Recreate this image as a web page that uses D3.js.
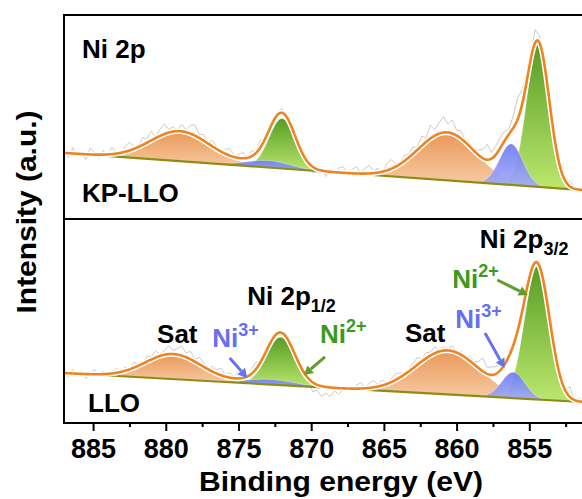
<!DOCTYPE html>
<html><head><meta charset="utf-8">
<script src="https://cdn.jsdelivr.net/npm/d3@7"></script>
<style>
html,body{margin:0;padding:0;background:#fff;}
text{font-family:"Liberation Sans",Arial,sans-serif;font-weight:bold;}
</style></head>
<body><svg id="chart" width="582" height="499"></svg>
<script>
// ---------- data ----------
const energyDomain = [887, 850];
const majorTicks = [885, 880, 875, 870, 865, 860, 855];
const minorTicks = [882.5, 877.5, 872.5, 867.5, 862.5, 857.5, 852.5];
const peakKinds = ["sat", "ni3", "ni2", "sat", "ni3", "ni2"];
// KP-LLO fit components (centre eV, height a.u., sigma eV)
const kpCenters = [879.0, 872.95, 872.0, 860.65, 856.25, 854.4];
const kpHeights = [14.7, 3.4, 24.5, 23.5, 20.1, 70.1];
const kpWidths  = [2.06, 1.5, 0.89, 2.0, 0.8, 0.78];
const kpBackground = [32.4, 13.5];   // at 887 eV and 850 eV
// LLO fit components
const lloCenters = [879.48, 872.8, 872.1, 860.6, 856.1, 854.46];
const lloHeights = [12.3, 2.5, 23.5, 21.6, 12.7, 65.2];
const lloWidths  = [1.92, 1.7, 0.96, 2.2, 0.8, 0.86];
const lloBackground = [24.5, 9.75];
// raw-data residuals (a.u.), sampled every 0.3 eV from 887 eV
const rawStep = 0.3;
const kpResidual = [
 1.5,-2.0,2.8,-1.2,0.6,-2.6,3.2,1.0,-1.8,2.2,
 -0.8,3.5,0.4,-2.2,2.6,4.1,1.2,-0.6,3.8,2.0,
 4.5,0.8,3.2,5.0,1.6,2.4,0.2,3.6,1.1,4.2,
 5.2,1.8,3.0,0.6,2.8,1.4,-0.5,2.2,3.4,0.8,
 1.6,3.0,-0.4,2.4,1.2,3.6,0.5,2.0,-0.6,1.4,
 2.2,0.3,-1.2,1.0,-0.8,0.6,-2.2,-3.0,-1.4,0.8,
 -2.6,1.4,-0.6,2.2,3.0,0.4,1.8,3.4,0.6,2.6,
 3.8,1.0,2.2,-0.4,3.2,4.6,1.4,0.8,2.8,1.6,
 3.4,1.2,4.8,2.0,6.5,3.0,5.4,7.8,4.2,6.6,
 2.6,3.8,0.8,1.8,-0.6,2.4,4.2,7.5,3.0,4.5,
 5.0,4.6,2.4,6.0,10.5,7.2,4.0,3.0,6.5,3.2,
 1.4,-0.8,0.6,-1.6,1.2,-0.4,2.4,0.6,-1.2,1.8,
 0.4,-1.0,2.2,0.8];
const lloResidual = [
 1.2,-1.8,2.0,-0.6,1.4,-2.2,0.8,2.4,-1.0,1.6,
 -1.4,0.6,2.2,-0.4,1.8,0.2,2.6,1.0,-0.2,2.8,
 1.4,3.2,0.8,2.0,4.2,1.6,3.0,4.6,2.2,3.8,
 1.2,3.4,2.0,0.4,2.6,1.8,3.6,0.8,2.4,1.0,
 3.0,1.6,-0.2,2.2,3.4,1.0,2.6,0.4,1.8,-0.4,
 1.2,-1.0,0.6,0.8,-0.6,-2.4,-1.2,-4.6,-2.8,-5.0,
 -3.2,-4.4,-1.6,-3.0,-0.6,1.2,-0.4,1.6,2.8,0.6,
 2.2,3.4,1.0,2.6,0.4,1.8,3.0,2.2,0.8,1.6,
 2.4,3.6,1.2,2.8,1.6,3.2,0.6,2.0,1.0,2.6,
 0.4,1.8,-0.6,2.4,1.4,3.2,6.5,3.0,4.0,3.4,
 4.2,2.0,1.2,3.0,1.8,0.6,2.2,1.4,0.4,-0.8,
 0.8,-1.4,1.2,-0.6,2.0,1.0,5.0,-0.8,1.6,0.2,
 -1.2,0.8,1.8,-0.4];

// ---------- layout ----------
const frameLeft = 64, frameTop = 15, frameMid = 219, frameBottom = 423, frameRight = 602;
const svg = d3.select("#chart");
const x = d3.scaleLinear().domain(energyDomain).range([frameLeft, frameRight]);
const yTop = d3.scaleLinear().domain([0, 100]).range([frameMid, frameTop]);
const yBot = d3.scaleLinear().domain([0, 100]).range([frameBottom, frameMid]);

const colors = {
  sat: ["#eb9858", "#f7d0aa"],
  ni3: ["#6d7bf3", "#a5adf8"],
  ni2: ["#579c25", "#bde86e"]
};
const defs = svg.append("defs");
Object.entries(colors).forEach(([k, c]) => {
  const g = defs.append("linearGradient").attr("id", "grad-" + k)
    .attr("x1", 0).attr("y1", 0).attr("x2", 0).attr("y2", 1);
  g.append("stop").attr("offset", "0%").attr("stop-color", c[0]);
  g.append("stop").attr("offset", "100%").attr("stop-color", c[1]);
});
defs.append("clipPath").attr("id", "clipTop").append("rect")
  .attr("x", frameLeft).attr("y", frameTop).attr("width", frameRight - frameLeft).attr("height", frameMid - frameTop);
defs.append("clipPath").attr("id", "clipBot").append("rect")
  .attr("x", frameLeft).attr("y", frameMid).attr("width", frameRight - frameLeft).attr("height", frameBottom - frameMid);

const grid = d3.range(0, 741).map(i => energyDomain[0] - i * 0.05);
const gauss = (e, c, h, s) => h * Math.exp(-0.5 * ((e - c) / s) ** 2);

function drawPanel(y, centers, heights, widths, bg, resid, clipId) {
  const g = svg.append("g").attr("clip-path", `url(#${clipId})`);
  const base = e => bg[0] + (bg[1] - bg[0]) * (e - energyDomain[0]) / (energyDomain[1] - energyDomain[0]);
  const env = e => base(e) + centers.reduce((s, c, i) => s + gauss(e, c, heights[i], widths[i]), 0);
  // raw data
  const raw = resid.map((r, i) => { const e = energyDomain[0] - i * rawStep; return [e, env(e) + r]; });
  g.append("path").datum(raw)
    .attr("d", d3.line().x(d => x(d[0])).y(d => y(d[1])))
    .attr("fill", "none").attr("stroke", "#c4c4c4").attr("stroke-width", 0.9);
  // components
  const order = ["sat", "ni2", "ni3"];
  order.forEach(kind => {
    centers.forEach((c, i) => {
      if (peakKinds[i] !== kind) return;
      const pts = grid.filter(e => Math.abs(e - c) < widths[i] * 5);
      const area = d3.area().x(e => x(e)).y0(e => y(base(e)))
        .y1(e => y(base(e) + gauss(e, c, heights[i], widths[i])));
      g.append("path").datum(pts).attr("d", area)
        .attr("fill", `url(#grad-${kind})`).attr("fill-opacity", kind === "ni3" ? 0.92 : 1)
        .attr("stroke", "#ffffff").attr("stroke-opacity", 0.6).attr("stroke-width", 0.6);
    });
  });
  // background line
  g.append("line").attr("x1", x(energyDomain[0])).attr("x2", x(energyDomain[1]))
    .attr("y1", y(bg[0])).attr("y2", y(bg[1]))
    .attr("stroke", "#8e8c16").attr("stroke-width", 2.2);
  // envelope
  const envLine = d3.line().x(e => x(e)).y(e => y(env(e)));
  g.append("path").datum(grid).attr("d", envLine)
    .attr("fill", "none").attr("stroke", "#ffffff").attr("stroke-width", 5.5);
  g.append("path").datum(grid).attr("d", envLine)
    .attr("fill", "none").attr("stroke", "#ec8422").attr("stroke-width", 2.6);
}

drawPanel(yTop, kpCenters, kpHeights, kpWidths, kpBackground, kpResidual, "clipTop");
drawPanel(yBot, lloCenters, lloHeights, lloWidths, lloBackground, lloResidual, "clipBot");

// frame
svg.append("rect").attr("x", frameLeft).attr("y", frameTop)
  .attr("width", frameRight - frameLeft).attr("height", frameBottom - frameTop)
  .attr("fill", "none").attr("stroke", "#000").attr("stroke-width", 2);
svg.append("line").attr("x1", frameLeft).attr("x2", frameRight)
  .attr("y1", frameMid).attr("y2", frameMid).attr("stroke", "#000").attr("stroke-width", 2);

// x axis
const axisG = svg.append("g").attr("transform", `translate(0,${frameBottom})`);
axisG.call(d3.axisBottom(x).tickValues(majorTicks).tickSize(8).tickSizeOuter(0).tickFormat(d3.format("d")).tickPadding(8));
axisG.select(".domain").remove();
axisG.selectAll(".tick line").attr("stroke", "#000").attr("stroke-width", 2);
axisG.selectAll(".tick text").attr("font-size", 27).attr("fill", "#000")
  .attr("font-family", "'Liberation Sans', Arial, sans-serif").attr("font-weight", "bold");
const minorG = svg.append("g").attr("transform", `translate(0,${frameBottom})`);
minorG.call(d3.axisBottom(x).tickValues(minorTicks).tickSize(4).tickFormat(""));
minorG.select(".domain").remove();
minorG.selectAll(".tick line").attr("stroke", "#000").attr("stroke-width", 2);

svg.append("text").attr("x", 341).attr("y", 491).attr("text-anchor", "middle")
  .attr("font-size", 28.5).attr("textLength", 284).attr("lengthAdjust", "spacingAndGlyphs")
  .text("Binding energy (eV)");
svg.append("text").attr("transform", "translate(36,212) rotate(-90)").attr("text-anchor", "middle")
  .attr("font-size", 28.5).attr("textLength", 203).attr("lengthAdjust", "spacingAndGlyphs")
  .text("Intensity (a.u.)");

// panel labels
svg.append("text").attr("x", 82).attr("y", 58).attr("font-size", 26).text("Ni 2p");
svg.append("text").attr("x", 82).attr("y", 202).attr("font-size", 26).text("KP-LLO");
svg.append("text").attr("x", 88).attr("y", 412).attr("font-size", 26).text("LLO");

// annotations in LLO panel (eV, a.u.)
const blue = "#6670ee", green = "#3b9a1c";
function label(e, v, main, sup, sub, color) {
  const t = svg.append("text").attr("x", x(e)).attr("y", yBot(v)).attr("font-size", 26).attr("fill", color);
  t.append("tspan").text(main);
  if (sup) t.append("tspan").attr("font-size", 18).attr("dy", -11).text(sup);
  if (sub) t.append("tspan").attr("font-size", 18).attr("dy", 7).text(sub);
}
label(880.6, 39.2, "Sat", null, null, "#000");
label(863.55, 39.7, "Sat", null, null, "#000");
label(874.4, 57.8, "Ni 2p", null, "1/2", "#000");
label(858.4, 85.8, "Ni 2p", null, "3/2", "#000");
label(876.8, 37.3, "Ni", "3+", null, blue);
label(860.1, 46.6, "Ni", "3+", null, blue);
label(869.4, 39.2, "Ni", "2+", null, green);
label(860.3, 66.2, "Ni", "2+", null, green);

function arrow(e1, v1, e2, v2, color) {
  const x1 = x(e1), y1 = yBot(v1), x2 = x(e2), y2 = yBot(v2);
  const ang = Math.atan2(y2 - y1, x2 - x1), L = 9, W = 5;
  const bx = x2 - L * Math.cos(ang), by = y2 - L * Math.sin(ang);
  svg.append("line").attr("x1", x1).attr("y1", y1).attr("x2", bx).attr("y2", by)
    .attr("stroke", color).attr("stroke-width", 3);
  svg.append("path").attr("d", `M${x2},${y2}L${bx + W * Math.sin(ang)},${by - W * Math.cos(ang)}L${bx - W * Math.sin(ang)},${by + W * Math.cos(ang)}Z`)
    .attr("fill", color);
}
arrow(875.6, 31.9, 874.4, 22.1, "#6573ee");
arrow(869.05, 32.4, 870.5, 23.5, "#5e9e2a");
arrow(858.05, 44.1, 856.7, 27.0, "#6573ee");
arrow(857.2, 70.1, 855.1, 62.7, "#5e9e2a");
</script></body></html>
